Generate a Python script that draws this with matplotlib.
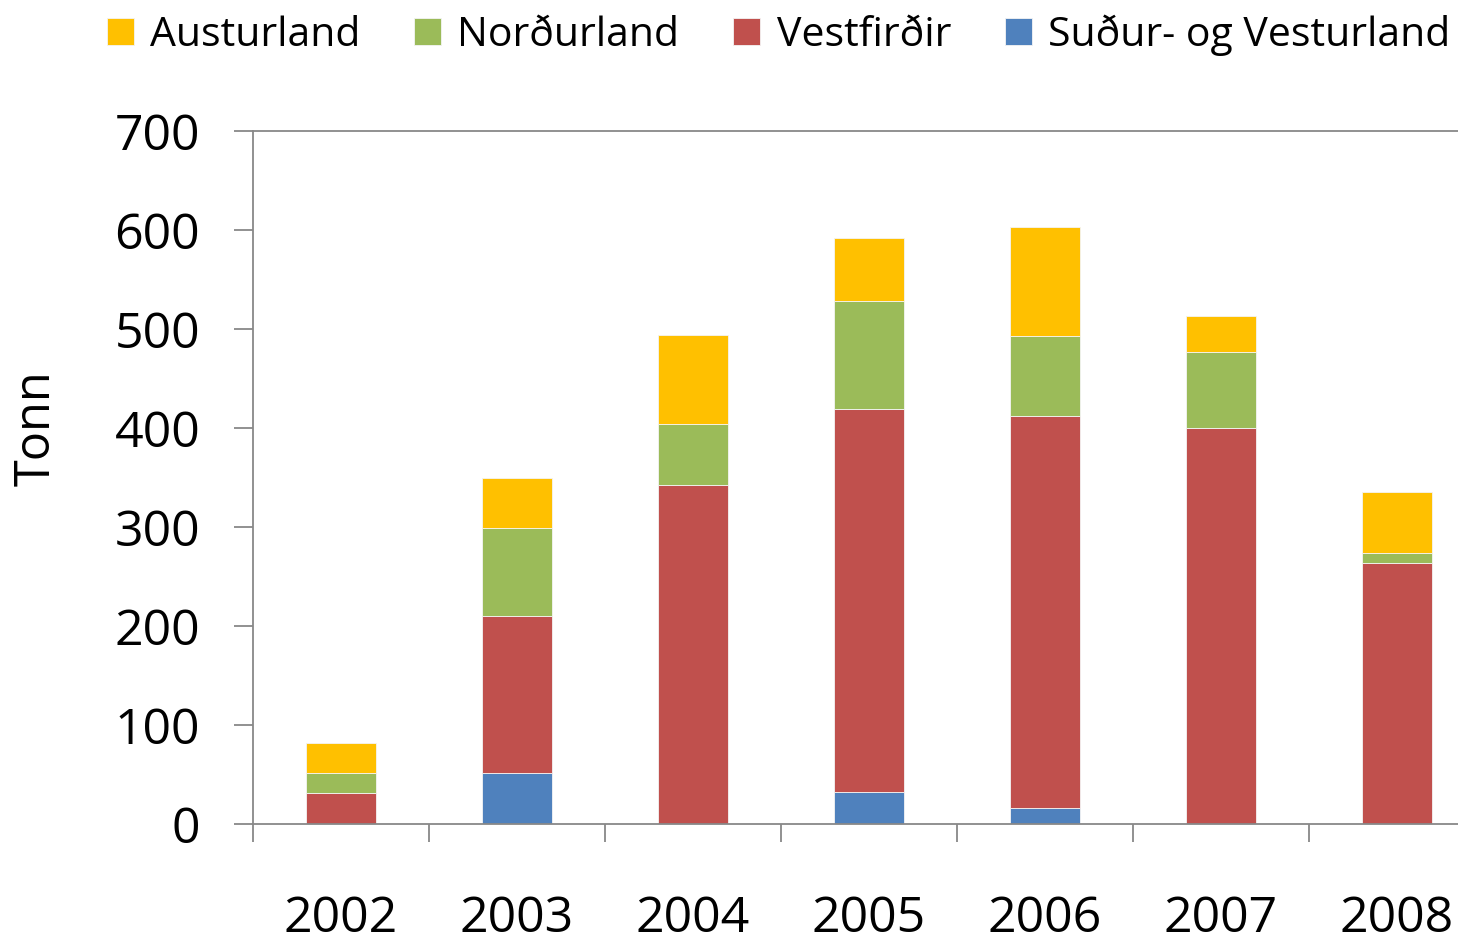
import numpy as np
import matplotlib
matplotlib.use('Agg')
import matplotlib.pyplot as plt
from matplotlib.ticker import FixedLocator

years = ['2002', '2003', '2004', '2005', '2006', '2007', '2008']
sudur_vestur = [0, 52, 0, 32, 16, 0, 0]
vestfirdir = [31, 158, 342, 387, 396, 400, 264]
nordurland = [21, 89, 62, 109, 81, 77, 10]
austurland = [30, 51, 90, 64, 110, 36, 61]

series = [
    ('Suður- og Vesturland', sudur_vestur, '#4F81BD'),
    ('Vestfirðir', vestfirdir, '#C0504D'),
    ('Norðurland', nordurland, '#9BBB59'),
    ('Austurland', austurland, '#FFC000'),
]

plt.rcParams['font.family'] = ['Open Sans', 'DejaVu Sans']

fig = plt.figure(figsize=(14.58, 9.42), dpi=100)
ax = fig.add_axes([253 / 1458, 1 - 824 / 942, 1232 / 1458, 693 / 942])

x = np.arange(len(years))
bottom = np.zeros(len(years))
handles = {}
for name, vals, color in series:
    vals = np.array(vals, dtype=float)
    h = ax.bar(x, vals, width=0.4, bottom=bottom, color=color,
               edgecolor='#f4f4f4', linewidth=0.6, label=name, zorder=2)
    handles[name] = h
    bottom += vals

ax.set_xlim(-0.5, len(years) - 0.5)
ax.set_ylim(0, 700)
ax.set_yticks(range(0, 701, 100))
ax.set_xticks(x)
ax.set_xticklabels(years)
ax.xaxis.set_minor_locator(FixedLocator(np.arange(-0.5, len(years), 1.0)))

gray = '#888888'
for side in ['left', 'bottom', 'top']:
    ax.spines[side].set_color(gray)
    ax.spines[side].set_linewidth(1.3)
ax.spines['right'].set_visible(False)

ax.tick_params(axis='y', length=14, width=1.3, color=gray, pad=24, labelsize=36)
ax.tick_params(axis='x', which='major', length=0, pad=51, labelsize=36)
ax.tick_params(axis='x', which='minor', length=13, width=1.3, color=gray)
ax.set_ylabel('Tonn', fontsize=35)
ax.yaxis.set_label_coords(-0.155, 0.571)

order = ['Austurland', 'Norðurland', 'Vestfirðir', 'Suður- og Vesturland']
fig.legend([handles[n] for n in order], order, loc='upper center',
           bbox_to_anchor=(0.534, 1.024), ncol=4, frameon=False, fontsize=29.5,
           handlelength=0.65, handleheight=0.65, handletextpad=0.4, columnspacing=1.32)

fig.savefig('out.png', dpi=100)
